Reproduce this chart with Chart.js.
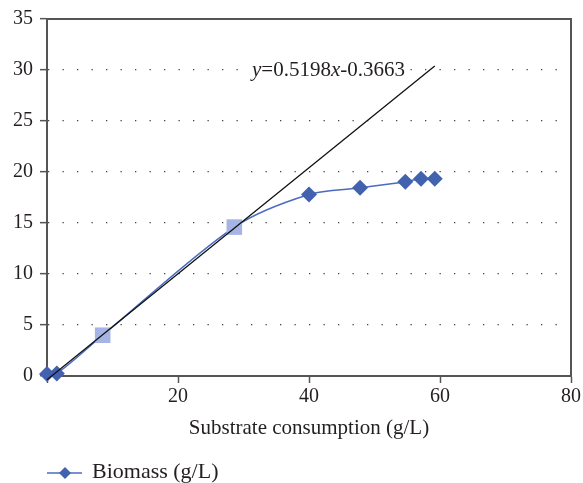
<!DOCTYPE html>
<html><head><meta charset="utf-8">
<script src="https://cdn.jsdelivr.net/npm/chart.js@4/dist/chart.umd.min.js"></script>
<style>html,body{margin:0;padding:0;background:#fff}#wrap{width:583px;height:483px}</style>
</head><body><div id="wrap"><canvas id="c" width="583" height="483"></canvas></div>
<script>
// ---- data ----
const substrate = [0, 1.5, 8.5, 28.6, 40.0, 47.8, 54.7, 57.1, 59.2];
const biomass   = [0.2, 0.25, 4.0, 14.6, 17.8, 18.45, 19.05, 19.35, 19.35];
const trendX = [0, 59.2];
const trendY = [-0.37, 30.4];
const xTickValues = [0, 20, 40, 60, 80];
const yTickValues = [0, 5, 10, 15, 20, 25, 30, 35];
const seriesName = 'Biomass (g/L)';
const xTitle = 'Substrate consumption (g/L)';
const equationParts = [['y', true], ['=0.5198', false], ['x', true], ['-0.3663', false]];
const equationAnchor = {x: 31.3, y: 30};
const squareIdx = [2, 3];

const FONT = "'Liberation Serif', 'DejaVu Serif', serif";
const TXT = '#231f20';
const AXIS = '#555555';
const DIAMOND = '#4262b0';
const LINE = '#4a6bc2';
const SQUARE = '#a5b4e5';

const isSq = i => squareIdx.includes(i);

const extras = {
  id: 'extras',
  afterDraw(chart) {
    const {ctx, chartArea: a, scales: {x, y}} = chart;
    ctx.save();
    // top and right frame
    ctx.strokeStyle = AXIS; ctx.lineWidth = 2;
    ctx.beginPath();
    ctx.moveTo(a.left - 1, a.top); ctx.lineTo(a.right, a.top); ctx.lineTo(a.right, a.bottom);
    ctx.stroke();

    // equation label
    const EQ = "21px " + FONT;
    let px = x.getPixelForValue(equationAnchor.x);
    const py = y.getPixelForValue(equationAnchor.y);
    let total = 0;
    const widths = equationParts.map(([t, it]) => {
      ctx.font = (it ? 'italic ' : '') + EQ;
      const w = ctx.measureText(t).width; total += w; return w;
    });
    ctx.fillStyle = '#fff';
    ctx.fillRect(px - 3, py - 9, total + 6, 18);
    ctx.fillStyle = TXT;
    ctx.textBaseline = 'middle';
    ctx.textAlign = 'left';
    equationParts.forEach(([t, it], i) => {
      ctx.font = (it ? 'italic ' : '') + EQ;
      ctx.fillText(t, px, py);
      px += widths[i];
    });

    // legend
    const ly = 473, lx = a.left;
    ctx.strokeStyle = LINE; ctx.lineWidth = 1.5;
    ctx.beginPath(); ctx.moveTo(lx, ly); ctx.lineTo(lx + 35, ly); ctx.stroke();
    ctx.fillStyle = DIAMOND;
    const r = 6;
    ctx.beginPath();
    ctx.moveTo(lx + 18, ly - r); ctx.lineTo(lx + 18 + r, ly); ctx.lineTo(lx + 18, ly + r); ctx.lineTo(lx + 18 - r, ly);
    ctx.closePath(); ctx.fill();
    ctx.fillStyle = TXT;
    ctx.font = "22px " + FONT;
    ctx.textBaseline = 'middle';
    ctx.fillText(seriesName, lx + 45, ly - 1);
    ctx.restore();
  }
};

new Chart(document.getElementById('c'), {
  type: 'scatter',
  data: {
    datasets: [
      {
        label: 'Trend',
        data: trendX.map((v, i) => ({x: v, y: trendY[i]})),
        showLine: true,
        borderColor: '#111111',
        borderWidth: 1.3,
        pointRadius: 0,
        order: 0,
        clip: false
      },
      {
        label: seriesName,
        data: substrate.map((v, i) => ({x: v, y: biomass[i]})),
        showLine: true,
        borderColor: LINE,
        borderWidth: 1.5,
        tension: 0.3,
        pointStyle: c => isSq(c.dataIndex) ? 'rect' : 'rectRot',
        pointRadius: c => isSq(c.dataIndex) ? 11 : 8,
        pointBackgroundColor: c => isSq(c.dataIndex) ? SQUARE : DIAMOND,
        pointBorderWidth: 0,
        pointBorderColor: 'rgba(0,0,0,0)',
        order: 1,
        clip: false
      }
    ]
  },
  options: {
    responsive: false,
    animation: false,
    devicePixelRatio: 1,
    layout: {padding: {left: 0, right: 10, top: 18, bottom: 41.8}},
    plugins: {legend: {display: false}, tooltip: {enabled: false}},
    scales: {
      x: {
        type: 'linear', min: 0, max: 80,
        afterBuildTicks: s => { s.ticks = xTickValues.map(v => ({value: v})); },
        ticks: {
          callback: v => v === 0 ? '' : String(v),
          font: {family: FONT, size: 20}, color: TXT, padding: 2, maxRotation: 0
        },
        grid: {drawOnChartArea: false, drawTicks: true, tickLength: 7, tickColor: AXIS, tickWidth: 1.5},
        border: {color: AXIS, width: 2},
        title: {display: true, text: xTitle, font: {family: FONT, size: 21}, color: TXT, padding: 0},
        afterFit: s => { s.height = 65.2; }
      },
      y: {
        type: 'linear', min: 0, max: 35,
        afterBuildTicks: s => { s.ticks = yTickValues.map(v => ({value: v})); },
        ticks: {font: {family: FONT, size: 20}, color: TXT, padding: 7},
        grid: {color: '#444', lineWidth: 1.3, drawTicks: true, tickLength: 7, tickColor: AXIS, tickWidth: 1.5, tickBorderDash: []},
        border: {color: AXIS, width: 2, dash: [1.3, 13.2]},
        afterFit: s => { s.width = 47; }
      }
    }
  },
  plugins: [extras]
});
</script>
</body></html>
